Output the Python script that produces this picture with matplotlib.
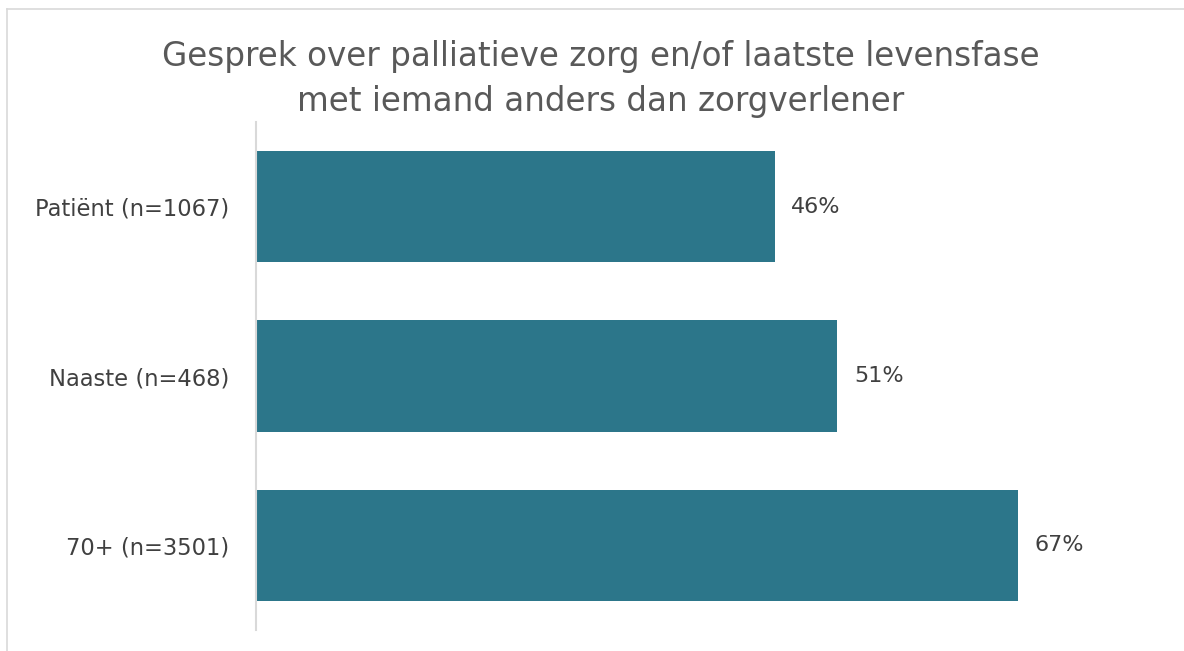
import matplotlib.pyplot as plt
from matplotlib.lines import Line2D

# Data
categories = ['Patiënt (n=1067)', 'Naaste (n=468)', '70+ (n=3501)']
values = [45.6, 51.1, 67.0]

BAR_COLOR = '#2c768a'
TEXT_COLOR = '#404040'
TITLE_COLOR = '#595959'

fig = plt.figure(figsize=(11.84, 6.51), dpi=100)
W, H = 1184, 651

# axes placed to match pixel layout
left, right, top, bottom = 256, 1166, 122, 630
ax = fig.add_axes([left / W, 1 - bottom / H, (right - left) / W, (bottom - top) / H])

y = range(len(categories))
ax.barh(y, values, height=0.657, color=BAR_COLOR)
ax.set_ylim(2.5, -0.5)
ax.set_xlim(0, 80)

ax.set_yticks(list(y))
ax.set_yticklabels(categories, fontsize=16.3, color=TEXT_COLOR)
ax.tick_params(axis='y', length=0, pad=19.5)
ax.set_xticks([])

for s in ['top', 'right', 'bottom']:
    ax.spines[s].set_visible(False)
ax.spines['left'].set_color('#d9d9d9')
ax.spines['left'].set_linewidth(1.5)

for i, v in enumerate(values):
    ax.annotate(f'{v:.0f}%', xy=(v, i), xytext=(12, 0), textcoords='offset points',
                va='center', ha='left', fontsize=16, color=TEXT_COLOR)

fig.text(601 / W, 1 - 79 / H,
         'Gesprek over palliatieve zorg en/of laatste levensfase\nmet iemand anders dan zorgverlener',
         ha='center', va='center', fontsize=23.5, color=TITLE_COLOR, linespacing=1.45)

# chart frame (top and left edge)
fig.add_artist(Line2D([7 / W, 1], [1 - 9 / H, 1 - 9 / H], color='#d9d9d9', lw=1.2))
fig.add_artist(Line2D([7 / W, 7 / W], [0, 1 - 9 / H], color='#d9d9d9', lw=1.2))

fig.savefig('out.png', dpi=100, facecolor='white')
